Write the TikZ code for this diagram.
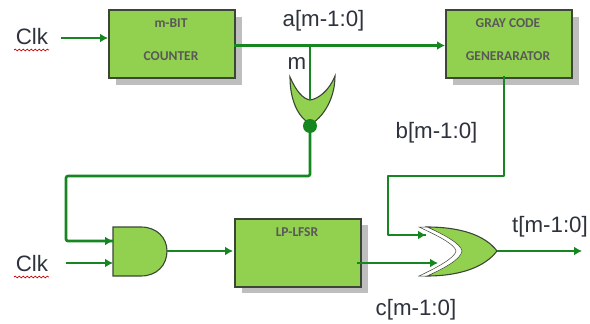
\documentclass[tikz,border=0pt]{standalone}
\usepackage{fontspec}
\setmainfont{Liberation Sans}
\newfontfamily\boxfont{Carlito}
\usetikzlibrary{arrows.meta,decorations.pathmorphing}
\definecolor{wire}{RGB}{22,134,32}
\definecolor{fillg}{RGB}{146,208,80}
\definecolor{edge}{RGB}{60,70,55}
\definecolor{shad}{RGB}{190,190,190}
\definecolor{lab}{RGB}{45,50,60}
\tikzset{
  x=1pt,y=-1pt,
  blockbox/.style={draw=edge,line width=1.6pt,fill=fillg,minimum width=126pt,minimum height=68pt,inner sep=0pt,anchor=north west},
  blockshadow/.style={fill=shad,minimum width=126pt,minimum height=68pt,inner sep=0pt,anchor=north west},
  blocktext/.style={font=\boxfont\bfseries\fontsize{13.5}{15}\selectfont,text=black!65,inner sep=0pt},
  gate/.style={draw=edge,line width=1.1pt,fill=fillg},
  sig/.style={font=\fontsize{22.3}{25}\selectfont,text=lab,inner sep=0pt},
  wirel/.style={draw=wire,line width=2.7pt,line join=round},
  arrowl/.style={wirel,-{Latex[length=8pt,width=9pt]}},
  squig/.style={draw=red!80!black,line width=0.7pt,decorate,decoration={snake,amplitude=0.9pt,segment length=4pt}}
}
\begin{document}
\begin{tikzpicture}
\useasboundingbox (0,0) rectangle (590,324);
% shadows
\node[blockshadow] at (116,17) {};
\node[blockshadow] at (453,17) {};
\node[blockshadow] at (242,225) {};
% blocks
\node[blockbox] (counter) at (108,9) {};
\node[blockbox] (gray) at (445,9) {};
\node[blockbox] (lfsr) at (234,218) {};
\node[blocktext] (t1) at (171,23) {m-BIT};
\node[blocktext] (t2) at (171,56) {COUNTER};
\node[blocktext] (t3) at (508,23) {GRAY CODE};
\node[blocktext] (t4) at (508,56) {GENERARATOR};
\node[blocktext] (t5) at (297,232) {LP-LFSR};
% labels
\node[sig] (clka) at (32,37) {Clk};
\node[sig] (clkb) at (32,264) {Clk};
\node[sig] (la) at (323.5,21) {a[m-1:0]};
\node[sig] (lm) at (297,63) {m};
\node[sig] (lb) at (436.5,133) {b[m-1:0]};
\node[sig] (lc) at (416,310) {c[m-1:0]};
\node[sig] (lt) at (550,227) {t[m-1:0]};
\draw[squig] (14,50) -- (49,50);
\draw[squig] (14,277) -- (49,277);
% named points
\coordinate (clkaout) at (61,38);
\coordinate (cnt_in) at (108,38);
\coordinate (cnt_out) at (234,45.5);
\coordinate (gray_in) at (445,45.5);
\coordinate (jn) at (310,45.5);
\coordinate (orin) at (310,100);
\coordinate (dot) at (310,126);
\coordinate (fb1) at (310,176);
\coordinate (fb2) at (66,176);
\coordinate (fb3) at (66,241);
\coordinate (and1) at (113,241);
\coordinate (clkbout) at (66,263);
\coordinate (and2) at (113,263);
\coordinate (andout) at (167,251);
\coordinate (lfsr_in) at (233,251);
\coordinate (lfsr_out) at (357,263);
\coordinate (xor2) at (438,263);
\coordinate (gray_out) at (504,76);
\coordinate (b1) at (504,176);
\coordinate (b2) at (388,176);
\coordinate (b3) at (388,235);
\coordinate (xor1) at (426,235);
\coordinate (xorout) at (497,251);
\coordinate (tout) at (582,251);
% OR gate (vertical)
\draw[gate] (290,77) .. controls (296,91) and (303,99) .. (310,100)
  .. controls (318,99) and (329,91) .. (335,76)
  .. controls (335,100) and (322,118) .. (311,124)
  .. controls (298,118) and (290,100) .. (290,77) -- cycle;
% AND gate
\draw[gate] (113,227) -- (141,227) .. controls (157,227) and (167,238) .. (167,251)
  .. controls (167,265) and (157,276) .. (141,276) -- (113,276) -- cycle;
% XOR gate
\draw[gate] (427,227) .. controls (460,227) and (485,235) .. (497,251)
  .. controls (485,267) and (460,276) .. (427,276)
  .. controls (443,268) and (457,258) .. (458,251)
  .. controls (457,244) and (443,235) .. (427,227) -- cycle;
\fill[white,draw=edge,line width=0.5pt] (419,227) -- (427,227)
  .. controls (445,235) and (461,244) .. (462,251)
  .. controls (461,259) and (445,268) .. (427,276) -- (419,276)
  .. controls (436,268) and (455,258) .. (456,251)
  .. controls (455,244) and (436,235) .. (419,227) -- cycle;
% wires
\draw[arrowl] (clkaout) -- (cnt_in);
\draw[arrowl] (cnt_out) -- (gray_in);
\draw[wirel] (jn) -- (orin);
\draw[wirel,rounded corners=2pt] (dot) -- (fb1) -- (fb2) -- (fb3) -- (and1);
\draw[arrowl] (fb3) -- (and1);
\draw[arrowl] (clkbout) -- (and2);
\draw[arrowl] (andout) -- (lfsr_in);
\draw[arrowl] (lfsr_out) -- (xor2);
\draw[wirel] (gray_out) -- (b1) -- (b2) -- (b3) -- (xor1);
\draw[arrowl] (b3) -- (xor1);
\draw[arrowl] (xorout) -- (tout);
\fill[wire] (dot) circle (7pt);
\end{tikzpicture}
\end{document}
